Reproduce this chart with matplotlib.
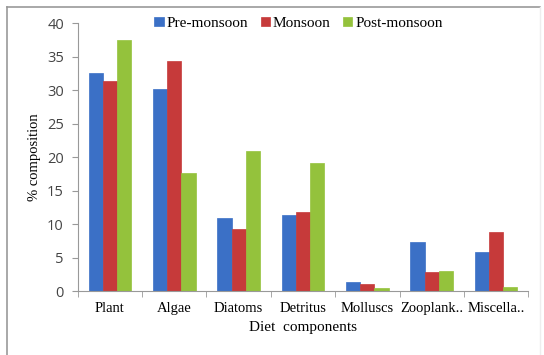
import matplotlib.pyplot as plt
import numpy as np

cats = ['Plant', 'Algae', 'Diatoms', 'Detritus', 'Molluscs', 'Zooplank..', 'Miscella..']
pre  = [32.6, 30.2, 10.9, 11.4, 1.4, 7.3, 5.9]
mon  = [31.4, 34.3, 9.3, 11.8, 1.1, 2.9, 8.8]
post = [37.5, 17.6, 20.9, 19.1, 0.5, 3.0, 0.6]
series = ['Pre-monsoon', 'Monsoon', 'Post-monsoon']
colors = ['#3b70c6', '#c63a3a', '#94c23c']

fig = plt.figure(figsize=(5.44, 3.55), dpi=100)
ax = fig.add_axes([0.143, 0.180, 0.828, 0.755])

x = np.arange(len(cats))
w = 0.22
for i, (vals, lab, c) in enumerate(zip([pre, mon, post], series, colors)):
    ax.bar(x + (i - 1) * w, vals, w, color=c, edgecolor=c, linewidth=0.5, label=lab, zorder=2)

ax.set_xlim(-0.5, len(cats) - 0.5)
ax.set_ylim(0, 40)
ax.set_yticks(range(0, 41, 5))
ax.set_xticks(x)
ax.set_xticklabels(cats, family='Liberation Serif', fontsize=10.5)
ax.set_xticks(np.arange(-0.5, len(cats), 1), minor=True)
ax.tick_params(axis='x', which='major', length=0, pad=8)
ax.tick_params(axis='x', which='minor', length=4, color='#999999', direction='out')
ax.tick_params(axis='y', length=4, color='#999999', labelsize=10.5, labelcolor='#444444', pad=6)
for t in ax.get_yticklabels():
    t.set_family('Open Sans')

for s in ['top', 'right']:
    ax.spines[s].set_visible(False)
for s in ['left', 'bottom']:
    ax.spines[s].set_color('#999999')
    ax.spines[s].set_linewidth(0.8)

ax.set_ylabel('% composition', family='Liberation Serif', fontsize=10.5)
ax.set_xlabel('Diet  components', family='Liberation Serif', fontsize=11, labelpad=4)

ax.legend(loc='upper center', bbox_to_anchor=(0.49, 1.075), ncol=3, frameon=False,
          prop={'family': 'Liberation Serif', 'size': 11}, handlelength=0.6,
          handleheight=0.6, handletextpad=0.2, columnspacing=0.8)

# outer frame lines
fig.add_artist(plt.Line2D([0.013, 0.993], [0.981, 0.981], color='#999999', lw=1.2))
fig.add_artist(plt.Line2D([0.013, 0.013], [0.0, 0.981], color='#999999', lw=1.2))
fig.add_artist(plt.Line2D([0.993, 0.993], [0.0, 0.981], color='#eeeeee', lw=1.0))

fig.savefig('out.png', dpi=100)
